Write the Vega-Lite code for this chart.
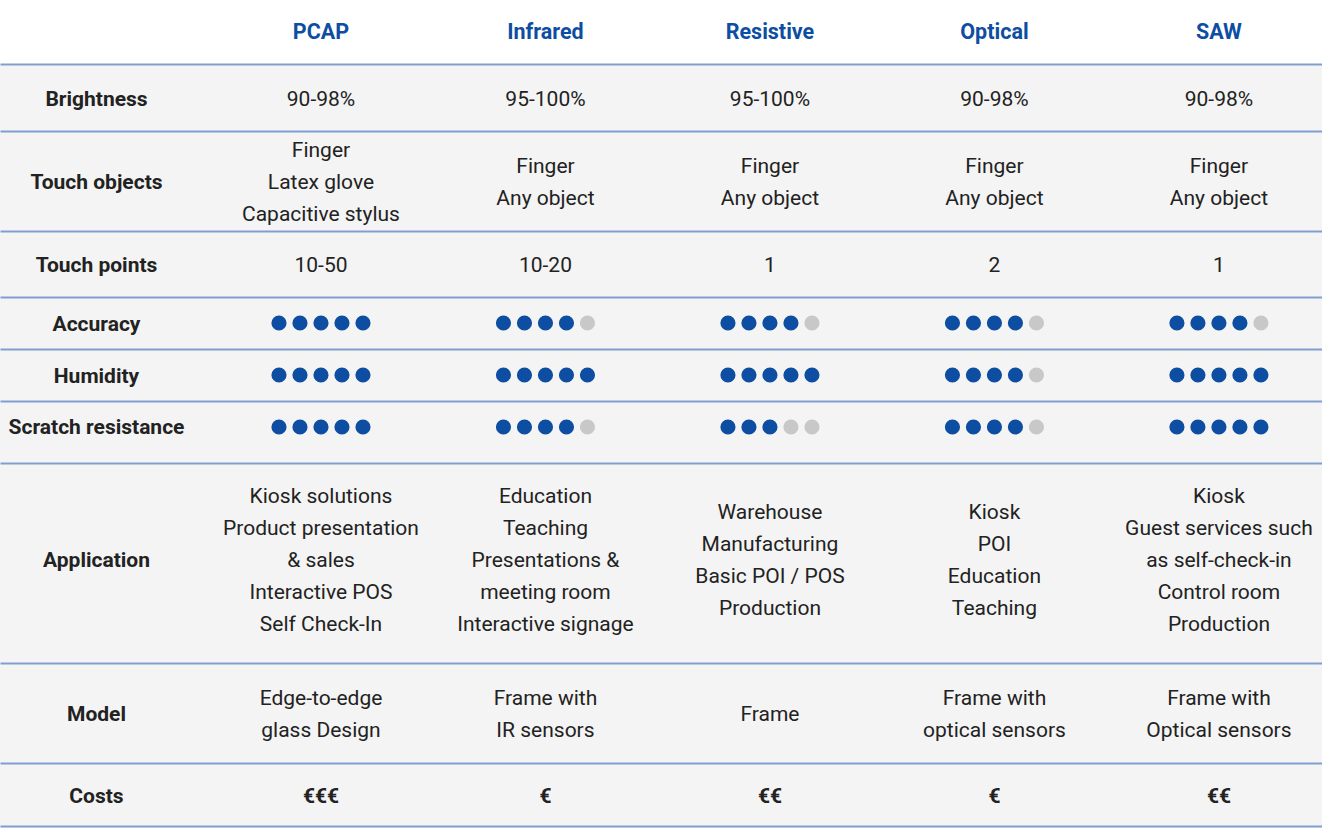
{
  "$schema": "https://vega.github.io/schema/vega-lite/v6.json",
  "background": "#ffffff",
  "padding": 0,
  "spacing": 0,
  "bounds": "flush",
  "config": {
    "font": "Roboto",
    "view": {"stroke": null},
    "concat": {"spacing": 0},
    "axis": {"domainColor": "#809fd0", "domainWidth": 2, "ticks": false, "labels": false, "grid": false},
    "text": {"font": "Roboto", "fontSize": 21, "color": "#222222", "lineHeight": 32, "lineBreak": "\n", "baseline": "middle", "align": "center", "dy": 1.5}
  },
  "datasets": {
    "cells": [
      {"row": "Header", "tech": "PCAP", "text": "PCAP"},
      {"row": "Header", "tech": "Infrared", "text": "Infrared"},
      {"row": "Header", "tech": "Resistive", "text": "Resistive"},
      {"row": "Header", "tech": "Optical", "text": "Optical"},
      {"row": "Header", "tech": "SAW", "text": "SAW"},
      {"row": "Brightness", "tech": "Feature", "text": "Brightness"},
      {"row": "Brightness", "tech": "PCAP", "text": "90-98%"},
      {"row": "Brightness", "tech": "Infrared", "text": "95-100%"},
      {"row": "Brightness", "tech": "Resistive", "text": "95-100%"},
      {"row": "Brightness", "tech": "Optical", "text": "90-98%"},
      {"row": "Brightness", "tech": "SAW", "text": "90-98%"},
      {"row": "Touch objects", "tech": "Feature", "text": "Touch objects"},
      {"row": "Touch objects", "tech": "PCAP", "text": "Finger\nLatex glove\nCapacitive stylus"},
      {"row": "Touch objects", "tech": "Infrared", "text": "Finger\nAny object"},
      {"row": "Touch objects", "tech": "Resistive", "text": "Finger\nAny object"},
      {"row": "Touch objects", "tech": "Optical", "text": "Finger\nAny object"},
      {"row": "Touch objects", "tech": "SAW", "text": "Finger\nAny object"},
      {"row": "Touch points", "tech": "Feature", "text": "Touch points"},
      {"row": "Touch points", "tech": "PCAP", "text": "10-50"},
      {"row": "Touch points", "tech": "Infrared", "text": "10-20"},
      {"row": "Touch points", "tech": "Resistive", "text": "1"},
      {"row": "Touch points", "tech": "Optical", "text": "2"},
      {"row": "Touch points", "tech": "SAW", "text": "1"},
      {"row": "Accuracy", "tech": "Feature", "text": "Accuracy"},
      {"row": "Humidity", "tech": "Feature", "text": "Humidity"},
      {"row": "Scratch resistance", "tech": "Feature", "text": "Scratch resistance"},
      {"row": "Application", "tech": "Feature", "text": "Application"},
      {"row": "Application", "tech": "PCAP", "text": "Kiosk solutions\nProduct presentation\n& sales\nInteractive POS\nSelf Check-In"},
      {"row": "Application", "tech": "Infrared", "text": "Education\nTeaching\nPresentations &\nmeeting room\nInteractive signage"},
      {"row": "Application", "tech": "Resistive", "text": "Warehouse\nManufacturing\nBasic POI / POS\nProduction"},
      {"row": "Application", "tech": "Optical", "text": "Kiosk\nPOI\nEducation\nTeaching"},
      {"row": "Application", "tech": "SAW", "text": "Kiosk\nGuest services such\nas self-check-in\nControl room\nProduction"},
      {"row": "Model", "tech": "Feature", "text": "Model"},
      {"row": "Model", "tech": "PCAP", "text": "Edge-to-edge\nglass Design"},
      {"row": "Model", "tech": "Infrared", "text": "Frame with\nIR sensors"},
      {"row": "Model", "tech": "Resistive", "text": "Frame"},
      {"row": "Model", "tech": "Optical", "text": "Frame with\noptical sensors"},
      {"row": "Model", "tech": "SAW", "text": "Frame with\nOptical sensors"},
      {"row": "Costs", "tech": "Feature", "text": "Costs"},
      {"row": "Costs", "tech": "PCAP", "text": "€€€"},
      {"row": "Costs", "tech": "Infrared", "text": "€"},
      {"row": "Costs", "tech": "Resistive", "text": "€€"},
      {"row": "Costs", "tech": "Optical", "text": "€"},
      {"row": "Costs", "tech": "SAW", "text": "€€"}
    ],
    "dots": [
      {"row": "Accuracy", "tech": "PCAP", "i": 1, "filled": "yes"},
      {"row": "Accuracy", "tech": "PCAP", "i": 2, "filled": "yes"},
      {"row": "Accuracy", "tech": "PCAP", "i": 3, "filled": "yes"},
      {"row": "Accuracy", "tech": "PCAP", "i": 4, "filled": "yes"},
      {"row": "Accuracy", "tech": "PCAP", "i": 5, "filled": "yes"},
      {"row": "Accuracy", "tech": "Infrared", "i": 1, "filled": "yes"},
      {"row": "Accuracy", "tech": "Infrared", "i": 2, "filled": "yes"},
      {"row": "Accuracy", "tech": "Infrared", "i": 3, "filled": "yes"},
      {"row": "Accuracy", "tech": "Infrared", "i": 4, "filled": "yes"},
      {"row": "Accuracy", "tech": "Infrared", "i": 5, "filled": "no"},
      {"row": "Accuracy", "tech": "Resistive", "i": 1, "filled": "yes"},
      {"row": "Accuracy", "tech": "Resistive", "i": 2, "filled": "yes"},
      {"row": "Accuracy", "tech": "Resistive", "i": 3, "filled": "yes"},
      {"row": "Accuracy", "tech": "Resistive", "i": 4, "filled": "yes"},
      {"row": "Accuracy", "tech": "Resistive", "i": 5, "filled": "no"},
      {"row": "Accuracy", "tech": "Optical", "i": 1, "filled": "yes"},
      {"row": "Accuracy", "tech": "Optical", "i": 2, "filled": "yes"},
      {"row": "Accuracy", "tech": "Optical", "i": 3, "filled": "yes"},
      {"row": "Accuracy", "tech": "Optical", "i": 4, "filled": "yes"},
      {"row": "Accuracy", "tech": "Optical", "i": 5, "filled": "no"},
      {"row": "Accuracy", "tech": "SAW", "i": 1, "filled": "yes"},
      {"row": "Accuracy", "tech": "SAW", "i": 2, "filled": "yes"},
      {"row": "Accuracy", "tech": "SAW", "i": 3, "filled": "yes"},
      {"row": "Accuracy", "tech": "SAW", "i": 4, "filled": "yes"},
      {"row": "Accuracy", "tech": "SAW", "i": 5, "filled": "no"},
      {"row": "Humidity", "tech": "PCAP", "i": 1, "filled": "yes"},
      {"row": "Humidity", "tech": "PCAP", "i": 2, "filled": "yes"},
      {"row": "Humidity", "tech": "PCAP", "i": 3, "filled": "yes"},
      {"row": "Humidity", "tech": "PCAP", "i": 4, "filled": "yes"},
      {"row": "Humidity", "tech": "PCAP", "i": 5, "filled": "yes"},
      {"row": "Humidity", "tech": "Infrared", "i": 1, "filled": "yes"},
      {"row": "Humidity", "tech": "Infrared", "i": 2, "filled": "yes"},
      {"row": "Humidity", "tech": "Infrared", "i": 3, "filled": "yes"},
      {"row": "Humidity", "tech": "Infrared", "i": 4, "filled": "yes"},
      {"row": "Humidity", "tech": "Infrared", "i": 5, "filled": "yes"},
      {"row": "Humidity", "tech": "Resistive", "i": 1, "filled": "yes"},
      {"row": "Humidity", "tech": "Resistive", "i": 2, "filled": "yes"},
      {"row": "Humidity", "tech": "Resistive", "i": 3, "filled": "yes"},
      {"row": "Humidity", "tech": "Resistive", "i": 4, "filled": "yes"},
      {"row": "Humidity", "tech": "Resistive", "i": 5, "filled": "yes"},
      {"row": "Humidity", "tech": "Optical", "i": 1, "filled": "yes"},
      {"row": "Humidity", "tech": "Optical", "i": 2, "filled": "yes"},
      {"row": "Humidity", "tech": "Optical", "i": 3, "filled": "yes"},
      {"row": "Humidity", "tech": "Optical", "i": 4, "filled": "yes"},
      {"row": "Humidity", "tech": "Optical", "i": 5, "filled": "no"},
      {"row": "Humidity", "tech": "SAW", "i": 1, "filled": "yes"},
      {"row": "Humidity", "tech": "SAW", "i": 2, "filled": "yes"},
      {"row": "Humidity", "tech": "SAW", "i": 3, "filled": "yes"},
      {"row": "Humidity", "tech": "SAW", "i": 4, "filled": "yes"},
      {"row": "Humidity", "tech": "SAW", "i": 5, "filled": "yes"},
      {"row": "Scratch resistance", "tech": "PCAP", "i": 1, "filled": "yes"},
      {"row": "Scratch resistance", "tech": "PCAP", "i": 2, "filled": "yes"},
      {"row": "Scratch resistance", "tech": "PCAP", "i": 3, "filled": "yes"},
      {"row": "Scratch resistance", "tech": "PCAP", "i": 4, "filled": "yes"},
      {"row": "Scratch resistance", "tech": "PCAP", "i": 5, "filled": "yes"},
      {"row": "Scratch resistance", "tech": "Infrared", "i": 1, "filled": "yes"},
      {"row": "Scratch resistance", "tech": "Infrared", "i": 2, "filled": "yes"},
      {"row": "Scratch resistance", "tech": "Infrared", "i": 3, "filled": "yes"},
      {"row": "Scratch resistance", "tech": "Infrared", "i": 4, "filled": "yes"},
      {"row": "Scratch resistance", "tech": "Infrared", "i": 5, "filled": "no"},
      {"row": "Scratch resistance", "tech": "Resistive", "i": 1, "filled": "yes"},
      {"row": "Scratch resistance", "tech": "Resistive", "i": 2, "filled": "yes"},
      {"row": "Scratch resistance", "tech": "Resistive", "i": 3, "filled": "yes"},
      {"row": "Scratch resistance", "tech": "Resistive", "i": 4, "filled": "no"},
      {"row": "Scratch resistance", "tech": "Resistive", "i": 5, "filled": "no"},
      {"row": "Scratch resistance", "tech": "Optical", "i": 1, "filled": "yes"},
      {"row": "Scratch resistance", "tech": "Optical", "i": 2, "filled": "yes"},
      {"row": "Scratch resistance", "tech": "Optical", "i": 3, "filled": "yes"},
      {"row": "Scratch resistance", "tech": "Optical", "i": 4, "filled": "yes"},
      {"row": "Scratch resistance", "tech": "Optical", "i": 5, "filled": "no"},
      {"row": "Scratch resistance", "tech": "SAW", "i": 1, "filled": "yes"},
      {"row": "Scratch resistance", "tech": "SAW", "i": 2, "filled": "yes"},
      {"row": "Scratch resistance", "tech": "SAW", "i": 3, "filled": "yes"},
      {"row": "Scratch resistance", "tech": "SAW", "i": 4, "filled": "yes"},
      {"row": "Scratch resistance", "tech": "SAW", "i": 5, "filled": "yes"}
    ]
  },
  "vconcat": [
    {
      "width": 1322, "height": 64,
      "view": {"fill": "#ffffff", "stroke": null},
      "data": {"name": "cells"},
      "transform": [{"filter": "datum.row === 'Header'"}],
      "mark": {"type": "text", "fontWeight": "bold", "fontSize": 21.5, "color": "#0d4ea2", "dy": 1},
      "encoding": {
        "x": {"field": "tech", "type": "nominal", "scale": {"type": "point", "domain": ["Feature", "PCAP", "Infrared", "Resistive", "Optical", "SAW"], "padding": 0.4445, "align": 0.4835}, "axis": null},
        "text": {"field": "text"}
      }
    },
    {
      "width": 1322, "height": 67,
      "view": {"fill": "#f4f4f4", "stroke": null},
      "data": {"name": "cells"},
      "transform": [{"filter": "datum.row === 'Brightness'"}],
      "layer": [
        {"transform": [{"filter": "datum.tech === 'Feature'"}], "mark": {"type": "text", "fontWeight": "bold", "dy": 2.5}, "encoding": {"x": {"field": "tech", "type": "nominal", "scale": {"type": "point", "domain": ["Feature", "PCAP", "Infrared", "Resistive", "Optical", "SAW"], "padding": 0.4445, "align": 0.4835}, "axis": {"orient": "top", "title": null}}, "text": {"field": "text"}}},
        {"transform": [{"filter": "datum.tech !== 'Feature'"}], "mark": {"type": "text", "dy": 2.5}, "encoding": {"x": {"field": "tech", "type": "nominal"}, "text": {"field": "text"}}}
      ]
    },
    {
      "width": 1322, "height": 100,
      "view": {"fill": "#f4f4f4", "stroke": null},
      "data": {"name": "cells"},
      "transform": [{"filter": "datum.row === 'Touch objects'"}],
      "layer": [
        {"transform": [{"filter": "datum.tech === 'Feature'"}], "mark": {"type": "text", "fontWeight": "bold"}, "encoding": {"x": {"field": "tech", "type": "nominal", "scale": {"type": "point", "domain": ["Feature", "PCAP", "Infrared", "Resistive", "Optical", "SAW"], "padding": 0.4445, "align": 0.4835}, "axis": {"orient": "top", "title": null}}, "text": {"field": "text"}}},
        {"transform": [{"filter": "datum.tech !== 'Feature'"}, {"calculate": "length(split(datum.text, '\\n'))", "as": "lines"}], "mark": {"type": "text"}, "encoding": {"x": {"field": "tech", "type": "nominal"}, "y": {"field": "lines", "type": "quantitative", "scale": {"domain": [1, 5], "range": [50, -14], "zero": false, "nice": false}, "axis": null}, "text": {"field": "text"}}}
      ]
    },
    {
      "width": 1322, "height": 66,
      "view": {"fill": "#f4f4f4", "stroke": null},
      "data": {"name": "cells"},
      "transform": [{"filter": "datum.row === 'Touch points'"}],
      "layer": [
        {"transform": [{"filter": "datum.tech === 'Feature'"}], "mark": {"type": "text", "fontWeight": "bold"}, "encoding": {"x": {"field": "tech", "type": "nominal", "scale": {"type": "point", "domain": ["Feature", "PCAP", "Infrared", "Resistive", "Optical", "SAW"], "padding": 0.4445, "align": 0.4835}, "axis": {"orient": "top", "title": null}}, "text": {"field": "text"}}},
        {"transform": [{"filter": "datum.tech !== 'Feature'"}], "mark": {"type": "text"}, "encoding": {"x": {"field": "tech", "type": "nominal"}, "text": {"field": "text"}}}
      ]
    },
    {
      "width": 1322, "height": 52,
      "view": {"fill": "#f4f4f4", "stroke": null},
      "layer": [
        {"data": {"name": "cells"}, "transform": [{"filter": "datum.row === 'Accuracy'"}], "mark": {"type": "text", "fontWeight": "bold"}, "encoding": {"x": {"field": "tech", "type": "nominal", "scale": {"type": "point", "domain": ["Feature", "PCAP", "Infrared", "Resistive", "Optical", "SAW"], "padding": 0.4445, "align": 0.4835}, "axis": {"orient": "top", "title": null}}, "text": {"field": "text"}}},
        {"data": {"name": "dots"}, "transform": [{"filter": "datum.row === 'Accuracy'"}], "mark": {"type": "circle", "size": 230, "opacity": 1}, "encoding": {"x": {"field": "tech", "type": "nominal"}, "xOffset": {"field": "i", "type": "quantitative", "scale": {"domain": [1, 5], "range": [-42, 42]}}, "color": {"field": "filled", "type": "nominal", "scale": {"domain": ["yes", "no"], "range": ["#0d4ea2", "#c8c8c8"]}, "legend": null}}}
      ]
    },
    {
      "width": 1322, "height": 52,
      "view": {"fill": "#f4f4f4", "stroke": null},
      "layer": [
        {"data": {"name": "cells"}, "transform": [{"filter": "datum.row === 'Humidity'"}], "mark": {"type": "text", "fontWeight": "bold"}, "encoding": {"x": {"field": "tech", "type": "nominal", "scale": {"type": "point", "domain": ["Feature", "PCAP", "Infrared", "Resistive", "Optical", "SAW"], "padding": 0.4445, "align": 0.4835}, "axis": {"orient": "top", "title": null}}, "text": {"field": "text"}}},
        {"data": {"name": "dots"}, "transform": [{"filter": "datum.row === 'Humidity'"}], "mark": {"type": "circle", "size": 230, "opacity": 1}, "encoding": {"x": {"field": "tech", "type": "nominal"}, "xOffset": {"field": "i", "type": "quantitative", "scale": {"domain": [1, 5], "range": [-42, 42]}}, "color": {"field": "filled", "type": "nominal", "scale": {"domain": ["yes", "no"], "range": ["#0d4ea2", "#c8c8c8"]}, "legend": null}}}
      ]
    },
    {
      "width": 1322, "height": 62,
      "view": {"fill": "#f4f4f4", "stroke": null},
      "layer": [
        {"data": {"name": "cells"}, "transform": [{"filter": "datum.row === 'Scratch resistance'"}], "mark": {"type": "text", "fontWeight": "bold", "dy": -4.5}, "encoding": {"x": {"field": "tech", "type": "nominal", "scale": {"type": "point", "domain": ["Feature", "PCAP", "Infrared", "Resistive", "Optical", "SAW"], "padding": 0.4445, "align": 0.4835}, "axis": {"orient": "top", "title": null}}, "text": {"field": "text"}}},
        {"data": {"name": "dots"}, "transform": [{"filter": "datum.row === 'Scratch resistance'"}], "mark": {"type": "circle", "size": 230, "opacity": 1, "yOffset": -5}, "encoding": {"x": {"field": "tech", "type": "nominal"}, "xOffset": {"field": "i", "type": "quantitative", "scale": {"domain": [1, 5], "range": [-42, 42]}}, "color": {"field": "filled", "type": "nominal", "scale": {"domain": ["yes", "no"], "range": ["#0d4ea2", "#c8c8c8"]}, "legend": null}}}
      ]
    },
    {
      "width": 1322, "height": 200,
      "view": {"fill": "#f4f4f4", "stroke": null},
      "data": {"name": "cells"},
      "transform": [{"filter": "datum.row === 'Application'"}],
      "layer": [
        {"transform": [{"filter": "datum.tech === 'Feature'"}], "mark": {"type": "text", "fontWeight": "bold", "dy": -2.5}, "encoding": {"x": {"field": "tech", "type": "nominal", "scale": {"type": "point", "domain": ["Feature", "PCAP", "Infrared", "Resistive", "Optical", "SAW"], "padding": 0.4445, "align": 0.4835}, "axis": {"orient": "top", "title": null}}, "text": {"field": "text"}}},
        {"transform": [{"filter": "datum.tech !== 'Feature'"}, {"calculate": "length(split(datum.text, '\\n'))", "as": "lines"}], "mark": {"type": "text"}, "encoding": {"x": {"field": "tech", "type": "nominal"}, "y": {"field": "lines", "type": "quantitative", "scale": {"domain": [1, 5], "range": [96, 32], "zero": false, "nice": false}, "axis": null}, "text": {"field": "text"}}}
      ]
    },
    {
      "width": 1322, "height": 100,
      "view": {"fill": "#f4f4f4", "stroke": null},
      "data": {"name": "cells"},
      "transform": [{"filter": "datum.row === 'Model'"}],
      "layer": [
        {"transform": [{"filter": "datum.tech === 'Feature'"}], "mark": {"type": "text", "fontWeight": "bold"}, "encoding": {"x": {"field": "tech", "type": "nominal", "scale": {"type": "point", "domain": ["Feature", "PCAP", "Infrared", "Resistive", "Optical", "SAW"], "padding": 0.4445, "align": 0.4835}, "axis": {"orient": "top", "title": null}}, "text": {"field": "text"}}},
        {"transform": [{"filter": "datum.tech !== 'Feature'"}, {"calculate": "length(split(datum.text, '\\n'))", "as": "lines"}], "mark": {"type": "text"}, "encoding": {"x": {"field": "tech", "type": "nominal"}, "y": {"field": "lines", "type": "quantitative", "scale": {"domain": [1, 5], "range": [50, -14], "zero": false, "nice": false}, "axis": null}, "text": {"field": "text"}}}
      ]
    },
    {
      "width": 1322, "height": 63,
      "view": {"fill": "#f4f4f4", "stroke": null},
      "data": {"name": "cells"},
      "transform": [{"filter": "datum.row === 'Costs'"}],
      "layer": [
        {"transform": [{"filter": "datum.tech === 'Feature'"}], "mark": {"type": "text", "fontWeight": "bold", "dy": 2.5}, "encoding": {"x": {"field": "tech", "type": "nominal", "scale": {"type": "point", "domain": ["Feature", "PCAP", "Infrared", "Resistive", "Optical", "SAW"], "padding": 0.4445, "align": 0.4835}, "axis": {"orient": "top", "title": null}}, "text": {"field": "text"}}},
        {"transform": [{"filter": "datum.tech !== 'Feature'"}], "mark": {"type": "text", "fontWeight": "bold", "dy": 2.5}, "encoding": {"x": {"field": "tech", "type": "nominal"}, "text": {"field": "text"}}}
      ]
    },
    {
      "width": 1322, "height": 2,
      "view": {"fill": "#f4f4f4", "stroke": null},
      "data": {"name": "cells"},
      "transform": [{"filter": "datum.row === 'Costs'"}],
      "mark": {"type": "point", "opacity": 0, "size": 1},
      "encoding": {
        "x": {"field": "tech", "type": "nominal", "scale": {"type": "point", "domain": ["Feature", "PCAP", "Infrared", "Resistive", "Optical", "SAW"], "padding": 0.4445, "align": 0.4835}, "axis": {"orient": "top", "title": null}}
      }
    }
  ]
}
